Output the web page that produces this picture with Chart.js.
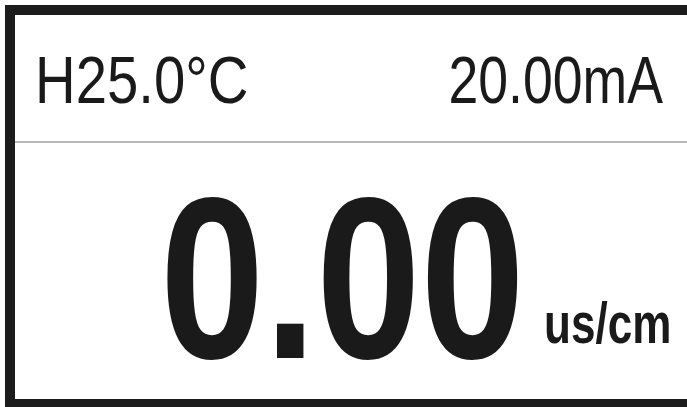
<!DOCTYPE html>
<html>
<head>
<meta charset="utf-8">
<script src="https://cdn.jsdelivr.net/npm/chart.js@4"></script>
<style>
  html, body { margin: 0; padding: 0; background: #fff; }
  #wrap { width: 687px; height: 407px; }
</style>
</head>
<body>
<div id="wrap"><canvas id="myChart" width="687" height="407"></canvas></div>
<script>
// display values
const tempMode = ['H'];
const temperature = [25.0];
const current = [20.00];
const reading = [0.00];
const unitLabel = ['us/cm'];

// draw a horizontally condensed string
function drawText(ctx, text, x, y, font, sx, align) {
  ctx.save();
  ctx.font = font;
  const w = ctx.measureText(text).width * sx;
  let left = x;
  if (align === 'right') left = x - w;
  ctx.translate(left, y);
  ctx.scale(sx, 1);
  ctx.textAlign = 'left';
  ctx.textBaseline = 'alphabetic';
  ctx.fillStyle = '#1a1a1a';
  ctx.fillText(text, 0, 0);
  ctx.restore();
}

const meterPlugin = {
  id: 'meter',
  beforeDraw(chart) {
    const c = chart.ctx;
    c.save();
    c.fillStyle = '#fff';
    c.fillRect(0, 0, chart.width, chart.height);
    c.restore();
  },
  afterDraw(chart) {
    const c = chart.ctx;
    c.save();
    // frame
    c.fillStyle = '#1c1c1c';
    c.fillRect(5, 5, 682, 10);   // top
    c.fillRect(5, 5, 10, 402);   // left
    c.fillRect(5, 399, 682, 8);  // bottom
    // divider
    c.fillStyle = '#b8b8b8';
    c.fillRect(15, 141, 672, 2);
    c.restore();

    drawText(c, tempMode[0] + temperature[0].toFixed(1) + '°C', 35, 103,
      '67px "Liberation Sans"', 0.84, 'left');
    drawText(c, current[0].toFixed(2) + 'mA', 663, 103,
      '67px "Liberation Sans"', 0.80, 'right');
    drawText(c, reading[0].toFixed(2), 160, 358,
      'bold 230px "Liberation Sans"', 0.815, 'left');
    drawText(c, unitLabel[0], 544, 343,
      'bold 58px "Liberation Sans"', 0.76, 'left');
  }
};

const ctx = document.getElementById('myChart').getContext('2d');
const chart = new Chart(ctx, {
  type: 'bar',
  data: {
    labels: [],
    datasets: [{ data: [] }]
  },
  options: {
    responsive: false,
    animation: false,
    events: [],
    layout: { padding: 0 },
    scales: { x: { display: false }, y: { display: false } },
    plugins: { legend: { display: false }, tooltip: { enabled: false } }
  },
  plugins: [meterPlugin]
});
</script>
</body>
</html>
